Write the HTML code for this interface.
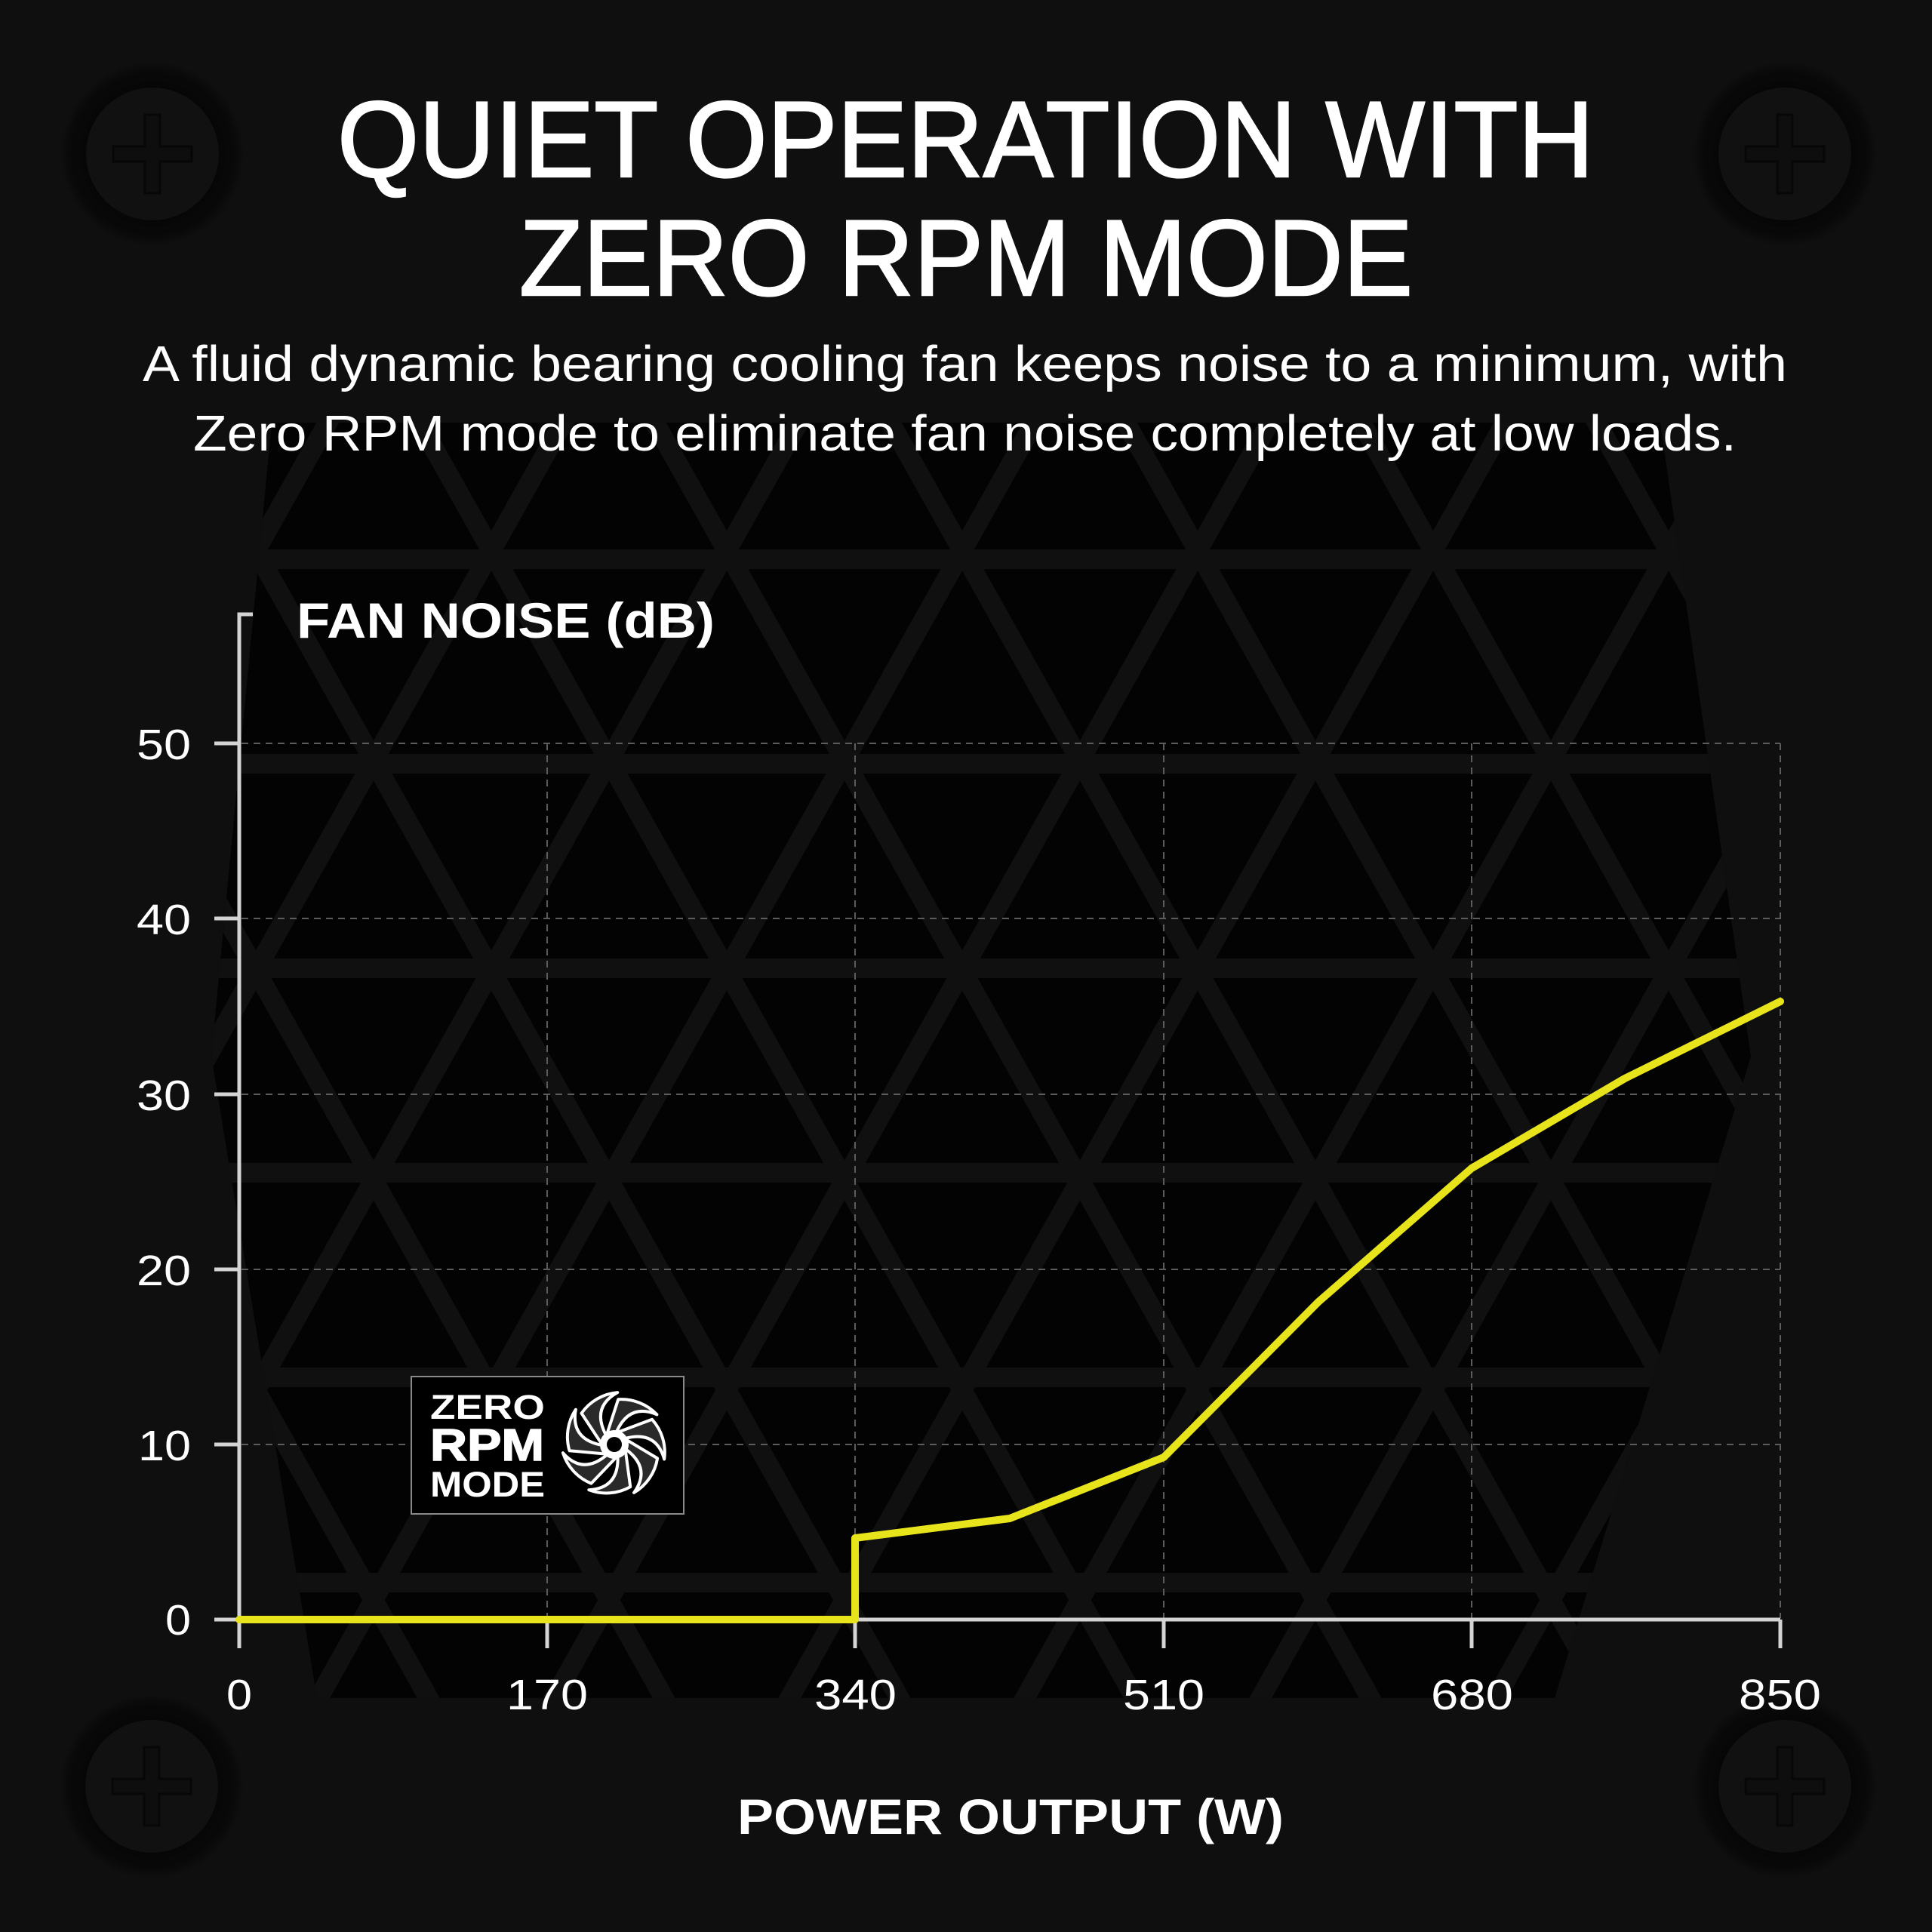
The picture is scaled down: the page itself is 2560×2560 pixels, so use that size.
<!DOCTYPE html>
<html>
<head>
<meta charset="utf-8">
<style>
html,body{margin:0;padding:0;background:#0f0f0f;}
svg{display:block;}
</style>
</head>
<body>
<svg width="2560" height="2560" viewBox="0 0 2560 2560" xmlns="http://www.w3.org/2000/svg" font-family="'Liberation Sans', sans-serif">
  <defs>
    <clipPath id="grill">
      <polygon points="360,560 2200,560 2320,1400 2060,2250 420,2250 280,1400"/>
    </clipPath>
    <radialGradient id="ring" cx="0.5" cy="0.5" r="0.5">
      <stop offset="0.7" stop-color="#060606"/>
      <stop offset="0.9" stop-color="#090909"/>
      <stop offset="1" stop-color="#0f0f0f"/>
    </radialGradient>
  </defs>

  <!-- background -->
  <rect x="0" y="0" width="2560" height="2560" fill="#0f0f0f"/>

  <!-- grill lattice -->
  <g clip-path="url(#grill)">
    <rect x="0" y="400" width="2560" height="2000" fill="#030303"/>
    <g stroke="#101010" stroke-width="26" fill="none">
      <line x1="0" y1="470" x2="2560" y2="470"/>
      <line x1="0" y1="741" x2="2560" y2="741"/>
      <line x1="0" y1="1012" x2="2560" y2="1012"/>
      <line x1="0" y1="1283" x2="2560" y2="1283"/>
      <line x1="0" y1="1554" x2="2560" y2="1554"/>
      <line x1="0" y1="1825" x2="2560" y2="1825"/>
      <line x1="0" y1="2097" x2="2560" y2="2097"/>
      <line x1="0" y1="2368" x2="2560" y2="2368"/>
      <line x1="524" y1="400" x2="-598" y2="2400"/>
      <line x1="836" y1="400" x2="-286" y2="2400"/>
      <line x1="1148" y1="400" x2="26" y2="2400"/>
      <line x1="1460" y1="400" x2="338" y2="2400"/>
      <line x1="1772" y1="400" x2="650" y2="2400"/>
      <line x1="2084" y1="400" x2="962" y2="2400"/>
      <line x1="2396" y1="400" x2="1274" y2="2400"/>
      <line x1="2708" y1="400" x2="1586" y2="2400"/>
      <line x1="3020" y1="400" x2="1898" y2="2400"/>
      <line x1="3332" y1="400" x2="2210" y2="2400"/>
      <line x1="-782" y1="400" x2="340" y2="2400"/>
      <line x1="-470" y1="400" x2="652" y2="2400"/>
      <line x1="-158" y1="400" x2="964" y2="2400"/>
      <line x1="154" y1="400" x2="1276" y2="2400"/>
      <line x1="466" y1="400" x2="1588" y2="2400"/>
      <line x1="778" y1="400" x2="1900" y2="2400"/>
      <line x1="1090" y1="400" x2="2212" y2="2400"/>
      <line x1="1402" y1="400" x2="2524" y2="2400"/>
      <line x1="1714" y1="400" x2="2836" y2="2400"/>
      <line x1="2026" y1="400" x2="3148" y2="2400"/>
    </g>
  </g>

  <!-- screws -->
  <g>
    <g transform="translate(202,204)">
      <circle r="122" fill="url(#ring)"/>
      <circle r="88" fill="#111111"/>
      <path d="M-10,-52 L10,-52 L10,-10 L52,-10 L52,10 L10,10 L10,52 L-10,52 L-10,10 L-52,10 L-52,-10 L-10,-10 Z" fill="#0e0e0e" stroke="#070707" stroke-width="3"/>
    </g>
    <g transform="translate(2365,204)">
      <circle r="122" fill="url(#ring)"/>
      <circle r="88" fill="#111111"/>
      <path d="M-10,-52 L10,-52 L10,-10 L52,-10 L52,10 L10,10 L10,52 L-10,52 L-10,10 L-52,10 L-52,-10 L-10,-10 Z" fill="#0e0e0e" stroke="#070707" stroke-width="3"/>
    </g>
    <g transform="translate(201,2367)">
      <circle r="122" fill="url(#ring)"/>
      <circle r="88" fill="#111111"/>
      <path d="M-10,-52 L10,-52 L10,-10 L52,-10 L52,10 L10,10 L10,52 L-10,52 L-10,10 L-52,10 L-52,-10 L-10,-10 Z" fill="#0e0e0e" stroke="#070707" stroke-width="3"/>
    </g>
    <g transform="translate(2365,2367)">
      <circle r="122" fill="url(#ring)"/>
      <circle r="88" fill="#111111"/>
      <path d="M-10,-52 L10,-52 L10,-10 L52,-10 L52,10 L10,10 L10,52 L-10,52 L-10,10 L-52,10 L-52,-10 L-10,-10 Z" fill="#0e0e0e" stroke="#070707" stroke-width="3"/>
    </g>
  </g>

  <!-- title -->
  <g fill="#ffffff" stroke="#ffffff" stroke-width="2.5">
    <text x="447" y="234" font-size="143" textLength="1665" lengthAdjust="spacingAndGlyphs">QUIET OPERATION WITH</text>
    <text x="688" y="391" font-size="143" textLength="1184" lengthAdjust="spacingAndGlyphs">ZERO RPM MODE</text>
  </g>
  <g fill="#ffffff">
    <text x="189" y="505" font-size="67" textLength="2179" lengthAdjust="spacingAndGlyphs">A fluid dynamic bearing cooling fan keeps noise to a minimum, with</text>
    <text x="256" y="597" font-size="67" textLength="2045" lengthAdjust="spacingAndGlyphs">Zero RPM mode to eliminate fan noise completely at low loads.</text>
  </g>

  <!-- gridlines -->
  <g stroke="#5c5c5c" stroke-width="2" stroke-dasharray="9 7" fill="none">
    <line x1="320" y1="985" x2="2359" y2="985"/>
    <line x1="320" y1="1217" x2="2359" y2="1217"/>
    <line x1="320" y1="1450" x2="2359" y2="1450"/>
    <line x1="320" y1="1682" x2="2359" y2="1682"/>
    <line x1="320" y1="1914" x2="2359" y2="1914"/>
    <line x1="725" y1="985" x2="725" y2="2144"/>
    <line x1="1133" y1="985" x2="1133" y2="2144"/>
    <line x1="1542" y1="985" x2="1542" y2="2144"/>
    <line x1="1950" y1="985" x2="1950" y2="2144"/>
    <line x1="2359" y1="985" x2="2359" y2="2144"/>
  </g>

  <!-- axes -->
  <g stroke="#d4d4d4" stroke-width="5" fill="none">
    <polyline points="335,814 317,814 317,2184"/>
    <line x1="317" y1="2146" x2="2359" y2="2146"/>
    <line x1="284" y1="985" x2="317" y2="985"/>
    <line x1="284" y1="1217" x2="317" y2="1217"/>
    <line x1="284" y1="1450" x2="317" y2="1450"/>
    <line x1="284" y1="1682" x2="317" y2="1682"/>
    <line x1="284" y1="1914" x2="317" y2="1914"/>
    <line x1="284" y1="2146" x2="317" y2="2146"/>
    <line x1="725" y1="2146" x2="725" y2="2184"/>
    <line x1="1133" y1="2146" x2="1133" y2="2184"/>
    <line x1="1542" y1="2146" x2="1542" y2="2184"/>
    <line x1="1950" y1="2146" x2="1950" y2="2184"/>
    <line x1="2359" y1="2146" x2="2359" y2="2184"/>
  </g>

  <!-- axis labels -->
  <g fill="#ffffff" font-size="57">
    <text x="181" y="1006" textLength="72" lengthAdjust="spacingAndGlyphs">50</text>
    <text x="181" y="1238" textLength="72" lengthAdjust="spacingAndGlyphs">40</text>
    <text x="181" y="1471" textLength="72" lengthAdjust="spacingAndGlyphs">30</text>
    <text x="181" y="1703" textLength="72" lengthAdjust="spacingAndGlyphs">20</text>
    <text x="183" y="1935" textLength="70" lengthAdjust="spacingAndGlyphs">10</text>
    <text x="219" y="2166" textLength="34" lengthAdjust="spacingAndGlyphs">0</text>

    <text x="300" y="2265" textLength="34" lengthAdjust="spacingAndGlyphs">0</text>
    <text x="671" y="2265" textLength="108" lengthAdjust="spacingAndGlyphs">170</text>
    <text x="1079" y="2265" textLength="109" lengthAdjust="spacingAndGlyphs">340</text>
    <text x="1488" y="2265" textLength="108" lengthAdjust="spacingAndGlyphs">510</text>
    <text x="1896" y="2265" textLength="109" lengthAdjust="spacingAndGlyphs">680</text>
    <text x="2304" y="2265" textLength="109" lengthAdjust="spacingAndGlyphs">850</text>
  </g>

  <g fill="#ffffff" font-weight="bold" font-size="66">
    <text x="393" y="845" textLength="554" lengthAdjust="spacingAndGlyphs">FAN NOISE (dB)</text>
    <text x="977" y="2430" textLength="724" lengthAdjust="spacingAndGlyphs">POWER OUTPUT (W)</text>
  </g>

  <!-- Zero RPM badge -->
  <rect x="545" y="1824" width="361" height="182" fill="#000000" stroke="#8a8a8a" stroke-width="2"/>
  <g fill="#ffffff" font-weight="bold">
    <text x="570" y="1880" font-size="45" textLength="152" lengthAdjust="spacingAndGlyphs">ZERO</text>
    <text x="570" y="1935" font-size="59" textLength="151" lengthAdjust="spacingAndGlyphs" stroke="#ffffff" stroke-width="1.5">RPM</text>
    <text x="570" y="1983" font-size="47" textLength="152" lengthAdjust="spacingAndGlyphs">MODE</text>
  </g>
  <g transform="translate(814,1914)">
    <g fill="#2a2a2a" stroke="#ffffff" stroke-width="4" stroke-linejoin="round">
      <path d="M2.95,-16.74 Q20,-55 56.5,-39.6 A65 65 0 0 0 5.2,-59.8 Q-2,-38 -9.75,-13.9 A17 17 0 0 1 2.95,-16.74 Z"/>
      <path d="M2.95,-16.74 Q20,-55 56.5,-39.6 A65 65 0 0 0 5.2,-59.8 Q-2,-38 -9.75,-13.9 A17 17 0 0 1 2.95,-16.74 Z" transform="rotate(51.43)"/>
      <path d="M2.95,-16.74 Q20,-55 56.5,-39.6 A65 65 0 0 0 5.2,-59.8 Q-2,-38 -9.75,-13.9 A17 17 0 0 1 2.95,-16.74 Z" transform="rotate(102.86)"/>
      <path d="M2.95,-16.74 Q20,-55 56.5,-39.6 A65 65 0 0 0 5.2,-59.8 Q-2,-38 -9.75,-13.9 A17 17 0 0 1 2.95,-16.74 Z" transform="rotate(154.29)"/>
      <path d="M2.95,-16.74 Q20,-55 56.5,-39.6 A65 65 0 0 0 5.2,-59.8 Q-2,-38 -9.75,-13.9 A17 17 0 0 1 2.95,-16.74 Z" transform="rotate(205.71)"/>
      <path d="M2.95,-16.74 Q20,-55 56.5,-39.6 A65 65 0 0 0 5.2,-59.8 Q-2,-38 -9.75,-13.9 A17 17 0 0 1 2.95,-16.74 Z" transform="rotate(257.14)"/>
      <path d="M2.95,-16.74 Q20,-55 56.5,-39.6 A65 65 0 0 0 5.2,-59.8 Q-2,-38 -9.75,-13.9 A17 17 0 0 1 2.95,-16.74 Z" transform="rotate(308.57)"/>
    </g>
    <circle r="16" fill="#ffffff"/>
    <circle r="10" fill="#000000"/>
  </g>

  <!-- data line -->
  <polyline points="317,2146 1133,2146 1133,2038 1338,2012 1542,1931 1747,1725 1950,1548 2153,1429 2359,1327"
    fill="none" stroke="#e8e41c" stroke-width="10" stroke-linecap="round" stroke-linejoin="round"/>
</svg>
</body>
</html>
